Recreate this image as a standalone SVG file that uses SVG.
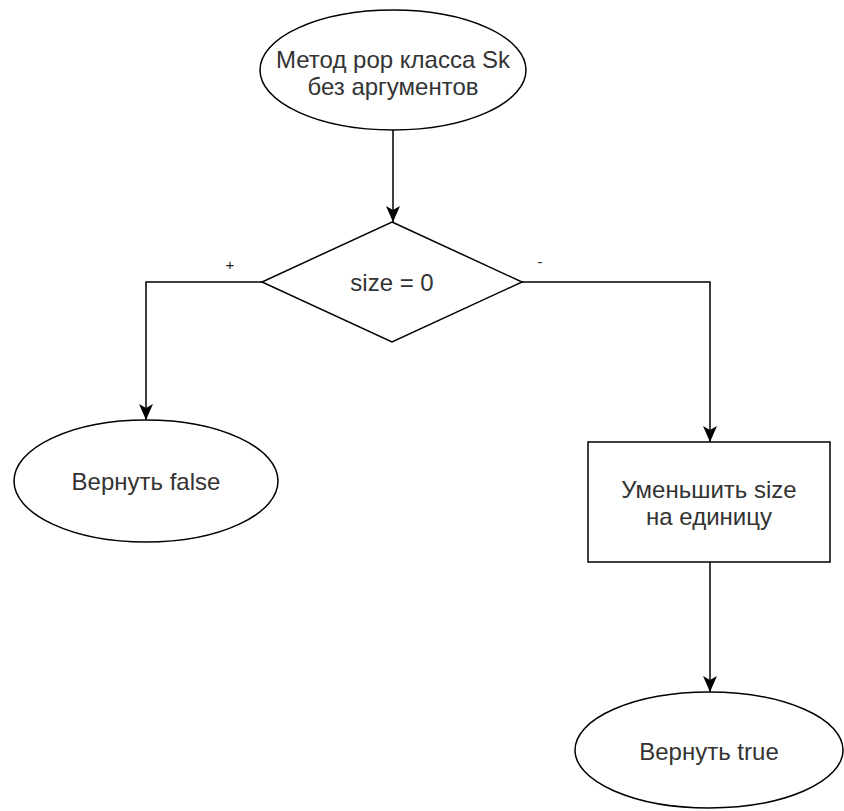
<svg xmlns="http://www.w3.org/2000/svg" width="844" height="811" viewBox="0 0 844 811">
<defs>
<marker id="arrow" markerUnits="userSpaceOnUse" markerWidth="16" markerHeight="14" refX="16" refY="7" orient="auto">
<path d="M0,0 L16,7 L0,14 L4,7 Z" fill="#000"/>
</marker>
<style>
.shape{fill:#fff;stroke:#000;stroke-width:1.5}
.edge{fill:none;stroke:#000;stroke-width:1.5;marker-end:url(#arrow)}
.t{font-family:"Liberation Sans",Arial,sans-serif;font-size:24px;fill:#333;text-anchor:middle;dominant-baseline:central}
.lbl{font-family:"Liberation Sans",Arial,sans-serif;font-size:15px;fill:#222;text-anchor:middle;dominant-baseline:central}
</style>
</defs>
<rect width="844" height="811" fill="#fff"/>
<g id="connectors">
<path class="edge" d="M393,130 L393,222"/>
<path class="edge" d="M262,282 L146,282 L146,420"/>
<path class="edge" d="M522,282 L710,282 L710,442"/>
<path class="edge" d="M710,562 L710,692"/>
<text class="lbl" x="230" y="264">+</text>
<text class="lbl" x="540" y="261">-</text>
</g>
<g id="start">
<ellipse class="shape" cx="393" cy="70" rx="133" ry="60"/>
<text class="t" x="393" y="59">Метод pop класса Sk</text>
<text class="t" x="393" y="86">без аргументов</text>
</g>
<g id="decision">
<polygon class="shape" points="392,222 522,282 392,342 262,282"/>
<text class="t" x="392" y="282">size = 0</text>
</g>
<g id="return-false">
<ellipse class="shape" cx="146" cy="481" rx="132" ry="61"/>
<text class="t" x="146" y="481">Вернуть false</text>
</g>
<g id="decrement">
<rect class="shape" x="588" y="442" width="242" height="120"/>
<text class="t" x="709" y="489">Уменьшить size</text>
<text class="t" x="709" y="516">на единицу</text>
</g>
<g id="return-true">
<ellipse class="shape" cx="709" cy="750" rx="134" ry="58"/>
<text class="t" x="709" y="751">Вернуть true</text>
</g>
</svg>
